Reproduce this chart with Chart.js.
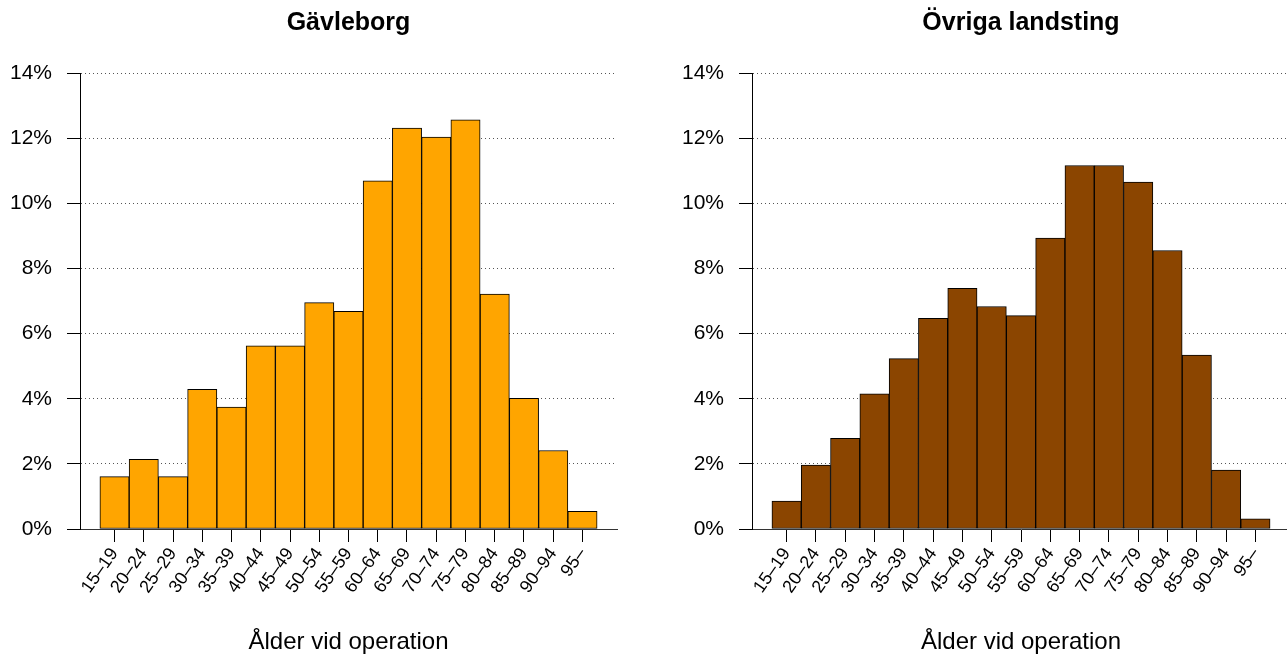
<!DOCTYPE html>
<html>
<head>
<meta charset="utf-8">
<script src="https://cdn.jsdelivr.net/npm/chart.js@4.4.1/dist/chart.umd.min.js"></script>
<style>
  html, body { margin: 0; padding: 0; background: #fff; }
  #wrap { position: relative; width: 1287px; height: 659px; overflow: hidden; }
  #left { position: absolute; left: 0; top: 0; }
  #right { position: absolute; left: 640px; top: 0; }
</style>
</head>
<body>
<div id="wrap">
  <canvas id="left" width="640" height="659"></canvas>
  <canvas id="right" width="660" height="659"></canvas>
</div>
<script>
const ageGroups = ['15–19', '20–24', '25–29', '30–34', '35–39', '40–44', '45–49', '50–54', '55–59',
  '60–64', '65–69', '70–74', '75–79', '80–84', '85–89', '90–94', '95–'];
const gavleborg = [1.61, 2.14, 1.61, 4.29, 3.74, 5.62, 5.62, 6.95, 6.68, 10.69, 12.31, 12.03, 12.56, 7.21, 4.01, 2.41, 0.54];
const ovrigaLandsting = [0.86, 1.96, 2.78, 4.15, 5.23, 6.47, 7.39, 6.83, 6.55, 8.93, 11.16, 11.16, 10.65, 8.55, 5.34, 1.81, 0.31];
const yTicks = [0, 2, 4, 6, 8, 10, 12, 14];

const FONT = "'Liberation Sans', Arial, Helvetica, sans-serif";
Chart.defaults.font.family = FONT;
Chart.defaults.color = '#000';

function makeChart(id, title, values, color, axisWidth, padRight) {
  const ctx = document.getElementById(id).getContext('2d');
  return new Chart(ctx, {
    type: 'bar',
    data: {
      datasets: [{
        data: values.map((v, i) => ({ x: i, y: v })),
        backgroundColor: color,
        borderColor: '#000',
        borderWidth: 1,
        borderSkipped: false,
        barPercentage: 1,
        categoryPercentage: 1
      }]
    },
    options: {
      responsive: false,
      animation: false,
      layout: { padding: { left: 0, right: padRight, top: 0, bottom: 0 } },
      plugins: {
        legend: { display: false },
        tooltip: { enabled: false },
        title: {
          display: true,
          text: title,
          fullSize: false,
          color: '#000',
          font: { size: 25, weight: 'bold' },
          padding: { top: 8, bottom: 35 }
        }
      },
      scales: {
        x: {
          type: 'linear',
          offset: false,
          min: -1.18,
          max: ageGroups.length - 1 + 1.18,
          afterBuildTicks: (s) => { s.ticks = ageGroups.map((_, i) => ({ value: i })); },
          afterFit: (s) => { s.height = 130; },
          ticks: {
            autoSkip: false,
            minRotation: 55,
            maxRotation: 55,
            padding: 2,
            font: { size: 18 },
            callback: (v) => ageGroups[v]
          },
          grid: { offset: false, drawOnChartArea: false, drawTicks: true, tickLength: 13, tickColor: '#000', color: '#000' },
          border: { color: '#333', width: 1 },
          title: {
            display: true,
            text: 'Ålder vid operation',
            font: { size: 24 },
            padding: { top: 0, bottom: 2 }
          }
        },
        y: {
          min: 0,
          max: 14,
          afterBuildTicks: (s) => { s.ticks = yTicks.map((v) => ({ value: v })); },
          afterFit: (s) => { s.width = axisWidth; },
          ticks: { padding: 15, font: { size: 21 }, callback: (v) => v + '%' },
          grid: {
            color: (c) => (c.tick && c.tick.value === 0 ? 'rgba(0,0,0,0)' : '#555'),
            lineWidth: 1,
            tickLength: 13,
            tickColor: '#000',
            tickWidth: 1,
            tickBorderDash: []
          },
          border: { display: true, color: '#000', width: 1, dash: [1, 3] }
        }
      }
    }
  });
}

makeChart('left', 'Gävleborg', gavleborg, '#FFA500', 80, 23);
makeChart('right', 'Övriga landsting', ovrigaLandsting, '#8B4500', 112, 10);
</script>
</body>
</html>
